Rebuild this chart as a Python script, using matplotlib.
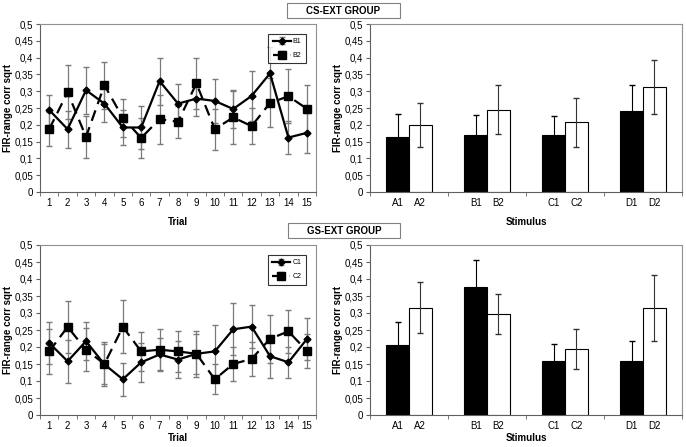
import numpy as np
import matplotlib
matplotlib.use("Agg")
from matplotlib import pyplot as plt
from matplotlib.patches import Rectangle

plt.rcParams['font.family'] = ['Liberation Sans', 'DejaVu Sans']

trials = list(range(1, 16))

# CS-EXT group, per trial
b1 = [0.244, 0.187, 0.303, 0.263, 0.192, 0.192, 0.330, 0.263, 0.278, 0.271, 0.247, 0.286, 0.353, 0.162, 0.176]
b1_err = [0.045, 0.055, 0.07, 0.056, 0.053, 0.063, 0.07, 0.058, 0.051, 0.065, 0.056, 0.074, 0.079, 0.05, 0.06]
b2 = [0.187, 0.297, 0.164, 0.318, 0.221, 0.161, 0.217, 0.209, 0.323, 0.187, 0.222, 0.196, 0.265, 0.285, 0.248]
b2_err = [0.05, 0.08, 0.062, 0.07, 0.057, 0.059, 0.073, 0.047, 0.077, 0.061, 0.078, 0.054, 0.073, 0.08, 0.07]

# GS-EXT group, per trial
c1 = [0.212, 0.158, 0.217, 0.149, 0.105, 0.155, 0.178, 0.163, 0.180, 0.187, 0.252, 0.260, 0.173, 0.155, 0.223]
c1_err = [0.062, 0.063, 0.056, 0.065, 0.049, 0.057, 0.049, 0.055, 0.067, 0.078, 0.076, 0.063, 0.063, 0.045, 0.061]
c2 = [0.187, 0.259, 0.192, 0.150, 0.259, 0.187, 0.192, 0.187, 0.180, 0.105, 0.150, 0.165, 0.224, 0.246, 0.189]
c2_err = [0.065, 0.076, 0.063, 0.058, 0.078, 0.057, 0.06, 0.061, 0.059, 0.044, 0.05, 0.05, 0.07, 0.063, 0.05]

# stimulus means
stim_groups = ['A', 'B', 'C', 'D']
cs_first = [0.165, 0.170, 0.170, 0.240]
cs_first_err = [0.067, 0.06, 0.057, 0.078]
cs_second = [0.200, 0.245, 0.207, 0.312]
cs_second_err = [0.065, 0.072, 0.072, 0.081]
gs_first = [0.205, 0.377, 0.160, 0.158]
gs_first_err = [0.07, 0.08, 0.049, 0.061]
gs_second = [0.316, 0.297, 0.194, 0.316]
gs_second_err = [0.074, 0.06, 0.058, 0.097]

yticks = [0, 0.05, 0.1, 0.15, 0.2, 0.25, 0.3, 0.35, 0.4, 0.45, 0.5]
ytick_labels = ['0', '0,05', '0,1', '0,15', '0,2', '0,25', '0,3', '0,35', '0,4', '0,45', '0,5']

W, H = 686, 447
fig = plt.figure(figsize=(W / 100, H / 100), dpi=100)


def px_axes(left, top, right, bottom):
    return fig.add_axes([left / W, 1 - bottom / H, (right - left) / W, (bottom - top) / H])


def style(ax):
    for s in ax.spines.values():
        s.set_color('#909090')
        s.set_linewidth(0.8)
    ax.spines['left'].set_color('#606060')
    ax.spines['bottom'].set_color('#606060')
    ax.set_ylim(0, 0.5)
    ax.set_yticks(yticks)
    ax.set_yticklabels(ytick_labels)
    ax.tick_params(axis='y', direction='out', length=3, labelsize=7, color='#606060', pad=2)
    ax.set_ylabel('FIR-range corr sqrt', fontsize=7, fontweight='bold', labelpad=1)


def line_panel(ax, s1, e1, s2, e2, names, xlabel_pad):
    ax.errorbar(trials, s1, yerr=e1, color='black', lw=1.6, marker='D', ms=3.5,
                ecolor='#7a7a7a', elinewidth=0.9, capsize=2, label=names[0], zorder=3)
    ax.errorbar(trials, s2, yerr=e2, color='black', lw=1.6, ls=(0, (5, 3)), marker='s', ms=6,
                ecolor='#7a7a7a', elinewidth=0.9, capsize=2, label=names[1], zorder=3)
    style(ax)
    ax.set_xlim(0.5, 15.5)
    ax.set_xticks(trials)
    ax.set_xticks(np.arange(0.5, 16, 1), minor=True)
    ax.tick_params(axis='x', which='major', length=0, labelsize=7, pad=4)
    ax.tick_params(axis='x', which='minor', length=3, color='#606060')
    ax.set_xlabel('Trial', fontsize=7, fontweight='bold', labelpad=xlabel_pad)
    leg = ax.legend(loc='upper right', bbox_to_anchor=(0.975, 0.96), fontsize=5, frameon=True,
                    fancybox=False, edgecolor='black', handlelength=2.6, borderpad=0.6,
                    labelspacing=1.0, handletextpad=0.3)
    leg.get_frame().set_linewidth(0.8)


def bar_panel(ax, v1, e1, v2, e2, xlabel_pad):
    x = np.arange(len(stim_groups))
    w = 0.29
    ax.bar(x - w / 2, v1, w, yerr=e1, color='black', edgecolor='black', lw=0.8,
           error_kw=dict(ecolor='black', elinewidth=0.8, capsize=2))
    ax.bar(x + w / 2, v2, w, yerr=e2, color='white', edgecolor='black', lw=0.8,
           error_kw=dict(ecolor='#333333', elinewidth=0.8, capsize=2))
    style(ax)
    ax.set_xlim(-0.5, len(stim_groups) - 0.5)
    pos = np.ravel([[i - w / 2, i + w / 2] for i in x])
    labels = np.ravel([[g + '1', g + '2'] for g in stim_groups])
    ax.set_xticks(pos)
    ax.set_xticklabels(labels)
    ax.set_xticks(np.arange(-0.5, len(stim_groups), 1), minor=True)
    ax.tick_params(axis='x', which='major', length=0, labelsize=7, pad=4)
    ax.tick_params(axis='x', which='minor', length=3, color='#606060')
    ax.set_xlabel('Stimulus', fontsize=7, fontweight='bold', labelpad=xlabel_pad)


ax1 = px_axes(40, 24, 316, 192)
line_panel(ax1, b1, b1_err, b2, b2_err, ['B1', 'B2'], 7)
ax2 = px_axes(370, 24, 682, 192)
bar_panel(ax2, cs_first, cs_first_err, cs_second, cs_second_err, 7)
ax3 = px_axes(40, 245, 316, 415)
line_panel(ax3, c1, c1_err, c2, c2_err, ['C1', 'C2'], 1.5)
ax4 = px_axes(370, 245, 682, 415)
bar_panel(ax4, gs_first, gs_first_err, gs_second, gs_second_err, 1.5)


def title_box(text, left, top, right, bottom):
    fig.patches.append(Rectangle((left / W, 1 - bottom / H), (right - left) / W, (bottom - top) / H,
                                 transform=fig.transFigure, facecolor='white',
                                 edgecolor='#808080', lw=0.8))
    fig.text((left + right) / 2 / W, 1 - (top + bottom) / 2 / H, text, ha='center', va='center',
             fontsize=7, fontweight='bold')


title_box('CS-EXT GROUP', 287, 3, 400, 18)
title_box('GS-EXT GROUP', 288, 223, 400, 238)

fig.savefig('out.png', dpi=100)
